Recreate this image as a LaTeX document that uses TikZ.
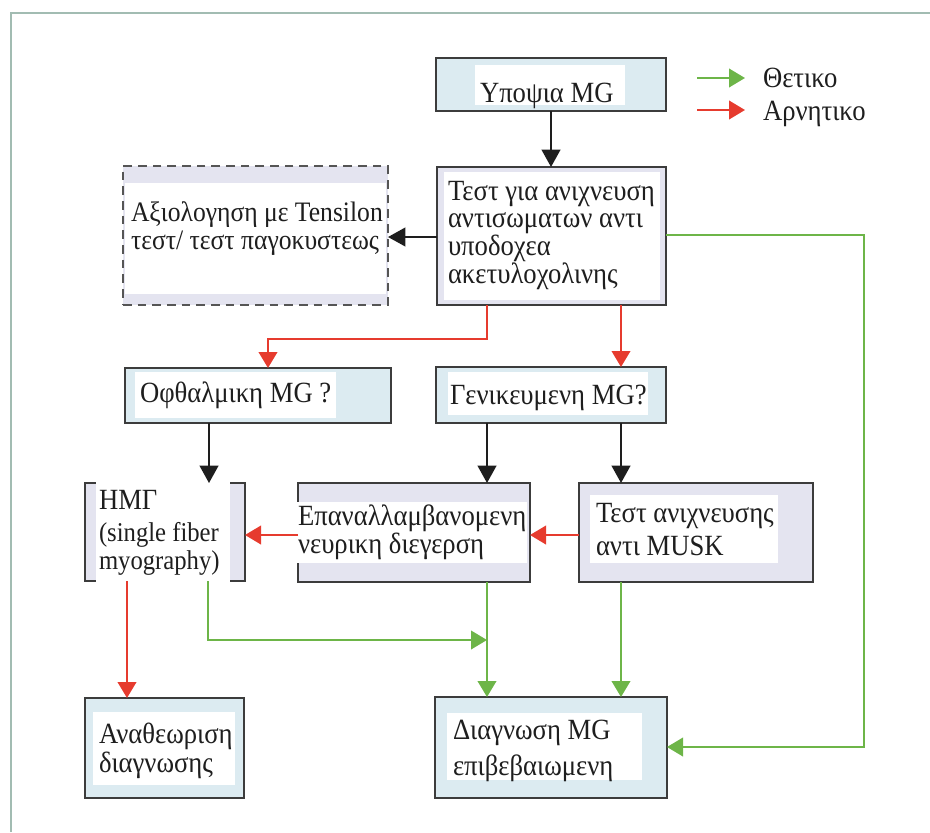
\documentclass[tikz,border=0pt]{standalone}
\usepackage{fontspec}
\setmainfont{Liberation Serif}
\usetikzlibrary{arrows.meta,fit}
\definecolor{boxline}{HTML}{3C3C3C}
\definecolor{paleblue}{HTML}{DCEBF1}
\definecolor{lavender}{HTML}{E4E4F0}
\definecolor{frameline}{HTML}{A2BCB2}
\definecolor{posgreen}{HTML}{6DB548}
\definecolor{negred}{HTML}{E63B2E}
\definecolor{ink}{HTML}{1E1E1E}
\definecolor{dashline}{HTML}{555555}
% slightly tall lettering
\newcommand{\tallword}[1]{\scalebox{1}[1.1]{#1}}

\begin{document}
\begin{tikzpicture}[x=0.75pt,y=-0.75pt,
  box/.style={draw=boxline, line width=1.5pt, inner sep=0pt, outer sep=0pt, rectangle},
  bluebox/.style={box, fill=paleblue},
  lavbox/.style={box, fill=lavender},
  dashbox/.style={box, draw=dashline, fill=lavender, dash pattern=on 6.5pt off 4.5pt},
  txt/.style={anchor=base west, inner sep=0pt, outer sep=0pt, font=\fontsize{20}{22}\selectfont, text=ink},
  latintxt/.style={txt, font=\fontsize{18.5}{21}\selectfont},
  smalltxt/.style={txt, font=\fontsize{19.2}{21}\selectfont},
  blkarrow/.style={draw=ink, line width=1.5pt, -{Triangle[width=14pt,length=13pt]}},
  yesarrow/.style={draw=posgreen, line width=1.3pt, -{Triangle[width=14pt,length=12pt]}},
  noarrow/.style={draw=negred, line width=1.3pt, -{Triangle[width=14pt,length=12pt]}},
]
\useasboundingbox (0,0) rectangle (930,832);

% outer frame (top and left edges)
\draw[frameline, line width=1.5pt] (11,832) -- (11,13) -- (930,13);

% boxes
\node[bluebox, fit={(436,58) (666,111)}]  (top)   {};
\node[lavbox,  fit={(437,167) (666,305)}] (acht)  {};
\node[dashbox, fit={(123,166) (388,305)}] (eval)  {};
\node[bluebox, fit={(125,368) (391,423)}] (ocul)  {};
\node[bluebox, fit={(436,367) (666,423)}] (gen)   {};
\node[lavbox,  fit={(85,483) (245,581)}]  (sfemg) {};
\node[lavbox,  fit={(298,483) (530,582)}] (rns)   {};
\node[lavbox,  fit={(579,483) (813,582)}] (musk)  {};
\node[bluebox, fit={(85,698) (244,798)}]  (revis) {};
\node[bluebox, fit={(435,697) (667,798)}] (conf)  {};

% white text panels
\fill[white] (475,65) rectangle (625,105);
\fill[white] (444,172) rectangle (660,300);
\fill[white] (125,183) rectangle (386,294);
\fill[white] (135,372) rectangle (336,418);
\fill[white] (448,372) rectangle (648,415);
\fill[white] (96,480.5) rectangle (230,583.5);
\fill[white] (296,502) rectangle (527,563);
\fill[white] (590,495) rectangle (778,563);
\fill[white] (93,712) rectangle (235,785);
\fill[white] (447,713) rectangle (642,780);

% texts
\node[txt] (t-top) at (480,102) {\tallword{Υποψια MG}};
\node[txt] (t-acht1) at (448,200) {\tallword{Τεστ για ανιχνευση}};
\node[txt] (t-acht2) at (448,227) {\tallword{αντισωματων αντι}};
\node[txt] (t-acht3) at (448,255) {\tallword{υποδοχεα}};
\node[txt] (t-acht4) at (448,283) {\tallword{ακετυλοχολινης}};
\node[smalltxt] (t-eval1) at (131,221) {\tallword{Αξιολογηση με Tensilon}};
\node[smalltxt] (t-eval2) at (131,249) {\tallword{τεστ/ τεστ παγοκυστεως}};
\node[txt] (t-ocul) at (140,402) {\tallword{Οφθαλμικη MG ?}};
\node[txt] (t-gen) at (450,404) {\tallword{Γενικευμενη MG?}};
\node[txt] (t-sfemg1) at (99,509) {\tallword{ΗΜΓ}};
\node[latintxt] (t-sfemg2) at (99,541) {\tallword{(single fiber}};
\node[latintxt] (t-sfemg3) at (99,569) {\tallword{myography)}};
\node[txt] (t-rns1) at (298,525) {\tallword{Επαναλλαμβανομενη}};
\node[txt] (t-rns2) at (298,553) {\tallword{νευρικη διεγερση}};
\node[txt] (t-musk1) at (596,522) {\tallword{Τεστ ανιχνευσης}};
\node[txt] (t-musk2) at (596,555) {\tallword{αντι MUSK}};
\node[txt] (t-revis1) at (99,743) {\tallword{Αναθεωριση}};
\node[txt] (t-revis2) at (99,772) {\tallword{διαγνωσης}};
\node[txt] (t-conf1) at (453,739) {\tallword{Διαγνωση MG}};
\node[txt] (t-conf2) at (453,775) {\tallword{επιβεβαιωμενη}};

% legend
\coordinate (lg-pos-a) at (697,78);
\coordinate (lg-pos-b) at (745,78);
\coordinate (lg-neg-a) at (697,110);
\coordinate (lg-neg-b) at (745,110);
\draw[yesarrow] (lg-pos-a) -- (lg-pos-b);
\draw[noarrow] (lg-neg-a) -- (lg-neg-b);
\node[txt] (lg-pos) at (763,87) {\tallword{Θετικο}};
\node[txt] (lg-neg) at (763,120) {\tallword{Αρνητικο}};

% black connectors
\draw[blkarrow] (top.south) -- (top.south |- acht.north);
\draw[blkarrow] (acht.west |- 0,237) -- (eval.east |- 0,237);
\draw[blkarrow] (ocul.south -| 209,0) -- (sfemg.north -| 209,0);
\draw[blkarrow] (gen.south -| 487,0) -- (rns.north -| 487,0);
\draw[blkarrow] (gen.south -| 621,0) -- (musk.north -| 621,0);

% negative results
\coordinate (nbend) at (487,339);
\draw[noarrow] (acht.south -| 487,0) -- (nbend) -| (ocul.north -| 268,0);
\draw[noarrow] (acht.south -| 621,0) -- (gen.north -| 621,0);
\draw[noarrow] (musk.west |- 0,535) -- (rns.east |- 0,535);
\draw[noarrow] (rns.west |- 0,535) -- (sfemg.east |- 0,535);
\draw[noarrow] (sfemg.south -| 127,0) -- (revis.north -| 127,0);

% positive results
\draw[yesarrow] (rns.south -| 487,0) -- (conf.north -| 487,0);
\draw[yesarrow] (musk.south -| 621,0) -- (conf.north -| 621,0);
\coordinate (pjoin) at (487,640);
\draw[yesarrow] (sfemg.south -| 208,0) |- (pjoin);
\coordinate (pright) at (864,235);
\draw[yesarrow] (acht.east |- pright) -- (pright) |- (conf.east |- 0,747);
\end{tikzpicture}
\end{document}
